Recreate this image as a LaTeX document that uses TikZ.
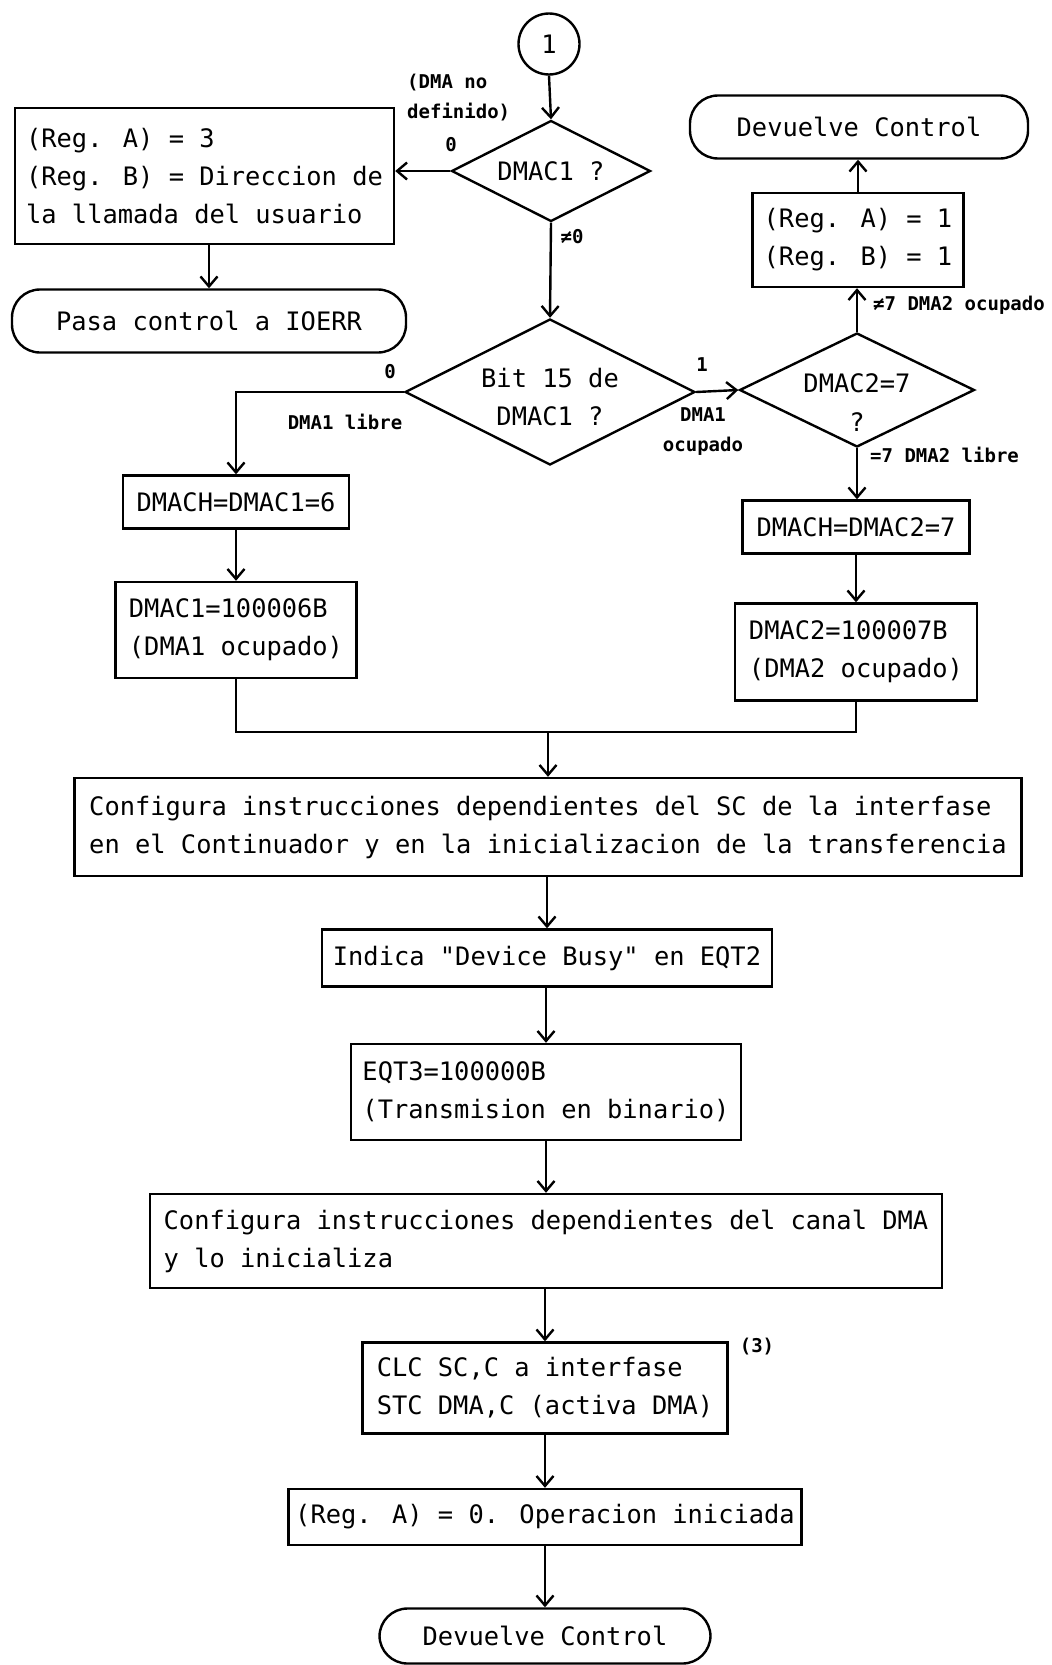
\documentclass[tikz,border=0pt]{standalone}
\usepackage{fontspec}
\newfontfamily\plot{DejaVu Sans Mono}
\newfontfamily\plotb{DejaVu Sans Mono Bold}
\usetikzlibrary{shapes.geometric,arrows.meta}
\tikzset{
  base/.style={draw, line width=2.4pt, font=\plot\fontsize{25.4}{38}\selectfont, inner sep=0pt, align=left},
  proc/.style={base, rectangle},
  term/.style={base, rectangle, rounded corners=28pt, align=center},
  dec/.style={base, diamond, aspect=2, align=center},
  dectext/.style={font=\plot\fontsize{25.4}{38}\selectfont, align=center, inner sep=0pt},
  lbl/.style={font=\plotb\fontsize{19}{30}\selectfont, inner sep=0pt},
  arr/.style={line width=2.4pt, -{Straight Barb[length=10pt,width=17pt,line width=2.4pt]}},
  ln/.style={line width=2.4pt},
}
\begin{document}
\begin{tikzpicture}[x=1pt,y=-1pt]
\fill[white] (0,0) rectangle (1052,1665);
\useasboundingbox (0,0) rectangle (1052,1665);

% start
\node[base, circle, minimum size=61pt, align=center] (c1) at (549,44) {1};

% first decision
\node[dec, minimum width=199pt, minimum height=101pt] (dA) at (551,171) {DMAC1 ?};
\node[proc, minimum width=379pt, minimum height=136pt] (err) at (204.5,176)
  {(Reg. A) = 3\\(Reg. B) = Direccion de\\la llamada del usuario};
\node[term, minimum width=394pt, minimum height=63pt] (ioerr) at (209,321) {Pasa control a IOERR};

% second decision
\node[dec, minimum width=290pt, minimum height=146pt] (dB) at (550,392) {};
\node[dectext] (dBt) at (550,397) {Bit 15 de\\DMAC1 ?};

% right branch
\node[dec, minimum width=235pt, minimum height=114pt] (dC) at (857,390) {};
\node[dectext, font=\plot\fontsize{25.4}{39}\selectfont] (dCt) at (857,403) {DMAC2=7\\?};
\node[proc, minimum width=211pt, minimum height=94pt] (r1) at (858,240) {(Reg. A) = 1\\(Reg. B) = 1};
\node[term, minimum width=338pt, minimum height=63pt] (dev1) at (859,127) {Devuelve Control};
\node[proc, minimum width=227pt, minimum height=53pt] (ch2) at (856,527) {DMACH=DMAC2=7};
\node[proc, minimum width=242pt, minimum height=97pt] (oc2) at (856,652) {DMAC2=100007B\\(DMA2 ocupado)};

% left branch
\node[proc, minimum width=226pt, minimum height=53pt] (ch1) at (236,502) {DMACH=DMAC1=6};
\node[proc, minimum width=241pt, minimum height=96pt] (oc1) at (236,630) {DMAC1=100006B\\(DMA1 ocupado)};

% main chain
\coordinate (m) at (548,732);
\node[proc, minimum width=947pt, minimum height=98pt] (cfg1) at (548,827)
  {Configura instrucciones dependientes del SC de la interfase\\en el Continuador y en la inicializacion de la transferencia};
\node[proc, minimum width=450pt, minimum height=57pt] (busy) at (547,958) {Indica "Device Busy" en EQT2};
\node[proc, minimum width=390pt, minimum height=96pt] (eqt) at (546,1092) {EQT3=100000B\\(Transmision en binario)};
\node[proc, minimum width=792pt, minimum height=94pt] (cfg2) at (546,1241)
  {Configura instrucciones dependientes del canal DMA\\y lo inicializa};
\node[proc, minimum width=365pt, minimum height=91pt] (clc) at (545,1388) {CLC SC,C a interfase\\STC DMA,C (activa DMA)};
\node[proc, minimum width=513pt, minimum height=56pt] (ra0) at (545,1517) {(Reg. A) = 0. Operacion iniciada};
\node[term, minimum width=331pt, minimum height=55pt] (dev2) at (545,1636) {Devuelve Control};

% labels
\node[lbl, anchor=west, align=left] (l1) at (407,98) {(DMA no\\definido)};
\node[lbl] (l2) at (451,145) {0};
\node[lbl] (l3) at (572,237) {≠0};
\node[lbl] (l4) at (390,372) {0};
\node[lbl] (l5) at (345,422) {DMA1 libre};
\node[lbl] (l6) at (702,365) {1};
\node[lbl, align=center] (l7) at (703,432) {DMA1\\ocupado};
\node[lbl, anchor=west] (l8) at (873,305) {≠7 DMA2 ocupado};
\node[lbl, anchor=west] (l9) at (870,455) {=7 DMA2 libre};
\node[lbl] (l10) at (757,1347) {(3)};

% connectors
\draw[arr] (c1.south) -- (dA.north);
\draw[arr] (dA.west) -- (err.east |- dA.west);
\draw[arr] (err.south -| ioerr.north) -- (ioerr.north);
\draw[arr] (dA.south) -- (dB.north);
\draw[arr] (dB.east) -- (dC.west);
\draw[arr] (dC.north) -- (r1.south -| dC.north);
\draw[arr] (r1.north) -- (dev1.south -| r1.north);
\draw[arr] (dC.south) -- (ch2.north -| dC.south);
\draw[arr] (ch2.south) -- (oc2.north);
\draw[arr] (dB.west) -| (ch1.north);
\draw[arr] (ch1.south) -- (oc1.north);
\draw[ln] (oc1.south) |- (m) -| (oc2.south);
\draw[arr] (m) -- (cfg1.north -| m);
\draw[arr] (cfg1.south -| busy.north) -- (busy.north);
\draw[arr] (busy.south -| eqt.north) -- (eqt.north);
\draw[arr] (eqt.south) -- (cfg2.north);
\draw[arr] (cfg2.south -| clc.north) -- (clc.north);
\draw[arr] (clc.south) -- (ra0.north);
\draw[arr] (ra0.south) -- (dev2.north);
\end{tikzpicture}
\end{document}
